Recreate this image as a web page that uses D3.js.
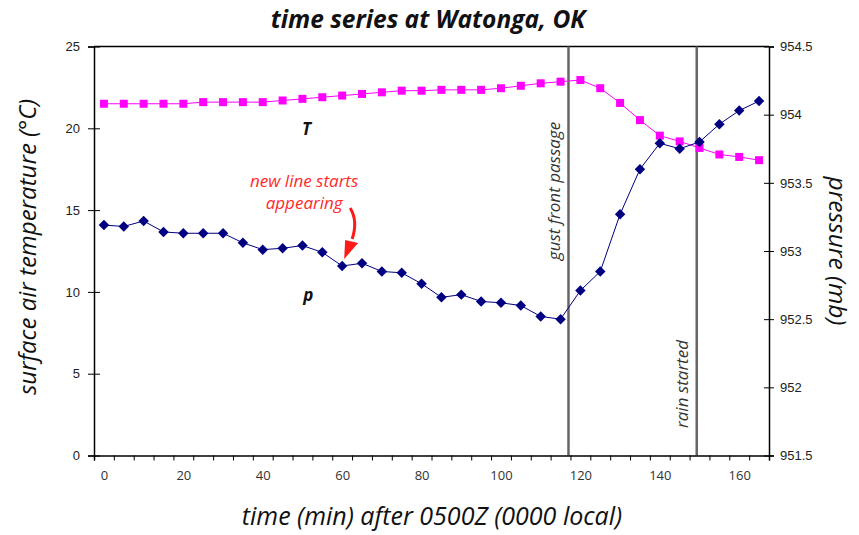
<!doctype html>
<html>
<head>
<meta charset="UTF-8" />
<script src="https://d3js.org/d3.v7.min.js"></script>
<style>
  body { margin: 0; background: #fff; }
  svg { display: block; }
  .num { font-family: "Liberation Sans", Arial, sans-serif; font-size: 13px; fill: #222; }
  .xlab { font-family: "Open Sans", "Noto Sans", sans-serif; font-size: 13px; fill: #333; }
  .ttl { font-family: "Open Sans", "Noto Sans", sans-serif; font-style: italic; fill: #111; }
</style>
</head>
<body>
<svg id="chart" width="859" height="535"></svg>
<script>
(function(){
  "use strict";

  // minutes after 0500Z
  const times = [0, 5, 10, 15, 20, 25, 30, 35, 40, 45, 50, 55, 60, 65, 70, 75, 80,
                 85, 90, 95, 100, 105, 110, 115, 120, 125, 130, 135, 140, 145, 150, 155, 160, 165];
  // surface air temperature (C)
  const temps = [21.5, 21.5, 21.5, 21.5, 21.5, 21.6, 21.6, 21.6, 21.6, 21.7, 21.8, 21.9, 22.0, 22.1, 22.2, 22.3, 22.3,
                 22.35, 22.35, 22.35, 22.45, 22.6, 22.75, 22.85, 22.95, 22.45, 21.55, 20.5, 19.55, 19.2, 18.8, 18.4, 18.25, 18.05];
  // pressure (mb)
  const press = [953.19, 953.18, 953.22, 953.14, 953.13, 953.13, 953.13, 953.06, 953.01, 953.02, 953.04, 952.99, 952.89,
                 952.91, 952.85, 952.84, 952.76, 952.66, 952.68, 952.63, 952.62, 952.60, 952.52, 952.50, 952.71, 952.85,
                 953.27, 953.60, 953.79, 953.75, 953.80, 953.93, 954.03, 954.10];

  const tempTicks = [0, 5, 10, 15, 20, 25];
  const pressTicks = [951.5, 952, 952.5, 953, 953.5, 954, 954.5];
  const timeLabels = [0, 20, 40, 60, 80, 100, 120, 140, 160];
  const catEdges = [-2.5, 2.5, 7.5, 12.5, 17.5, 22.5, 27.5, 32.5, 37.5, 42.5, 47.5, 52.5, 57.5, 62.5, 67.5, 72.5, 77.5,
                    82.5, 87.5, 92.5, 97.5, 102.5, 107.5, 112.5, 117.5, 122.5, 127.5, 132.5, 137.5, 142.5, 147.5,
                    152.5, 157.5, 162.5, 167.5];
  const events = [{t: 117, label: "gust front passage"}, {t: 149.3, label: "rain started"}];

  const svg = d3.select("#chart");

  const x = d3.scaleLinear().domain([-2.5, 167.5]).range([94, 769]);
  const yL = d3.scaleLinear().domain([0, 25]).range([455.5, 46.5]);
  const yR = d3.scaleLinear().domain([951.5, 954.5]).range([455.5, 46.5]);

  // top frame line
  svg.append("line")
     .attr("x1", x.range()[0]).attr("x2", x.range()[1])
     .attr("y1", yL(25)).attr("y2", yL(25))
     .attr("stroke", "#000").attr("stroke-width", 1.5);

  // event lines
  svg.selectAll(".evt").data(events).enter().append("line")
     .attr("class", "evt")
     .attr("x1", d => x(d.t)).attr("x2", d => x(d.t))
     .attr("y1", yL(25)).attr("y2", yL(0))
     .attr("stroke", "#666").attr("stroke-width", 2.5);

  svg.append("text").attr("class", "ttl")
     .attr("transform", "translate(" + (x(events[0].t) - 14) + "," + 191 + ") rotate(-90)")
     .attr("text-anchor", "middle").attr("dy", "0.35em")
     .style("font-size", "17px").style("fill", "#333")
     .text(events[0].label);
  svg.append("text").attr("class", "ttl")
     .attr("transform", "translate(" + (x(events[1].t) - 15) + "," + 384 + ") rotate(-90)")
     .attr("text-anchor", "middle").attr("dy", "0.35em")
     .style("font-size", "17px").style("fill", "#333")
     .text(events[1].label);

  // left axis
  const gL = svg.append("g").attr("transform", "translate(" + x.range()[0] + ",0)")
     .call(d3.axisLeft(yL).tickValues(tempTicks).tickSize(6).tickPadding(8));
  gL.select(".domain").attr("stroke-width", 1.5);
  gL.selectAll(".tick line").attr("x1", 6);
  gL.selectAll(".tick text").attr("class", "num").attr("fill", null);

  // right axis
  const gR = svg.append("g").attr("transform", "translate(" + x.range()[1] + ",0)")
     .call(d3.axisRight(yR).tickValues(pressTicks).tickSize(5).tickFormat(d3.format("")).tickPadding(6));
  gR.select(".domain").attr("stroke-width", 1.5);
  gR.selectAll(".tick line").attr("x1", -5);
  gR.selectAll(".tick text").attr("class", "num").attr("fill", null);

  // bottom axis: category ticks + labels
  const gB = svg.append("g").attr("transform", "translate(0," + yL(0) + ")")
     .call(d3.axisBottom(x).tickValues(catEdges).tickSize(5).tickFormat(""));
  gB.select(".domain").attr("stroke-width", 1.5);
  const gB2 = svg.append("g").attr("transform", "translate(0," + yL(0) + ")")
     .call(d3.axisBottom(x).tickValues(timeLabels).tickSize(0).tickPadding(15));
  gB2.select(".domain").remove();
  gB2.selectAll(".tick text").attr("class", "xlab").attr("fill", null);

  // series
  const lineT = d3.line().x((d, i) => x(times[i])).y(d => yL(d));
  const lineP = d3.line().x((d, i) => x(times[i])).y(d => yR(d));

  svg.append("path").datum(temps).attr("d", lineT)
     .attr("fill", "none").attr("stroke", "#ff00ff").attr("stroke-width", 1);
  svg.selectAll(".sq").data(temps).enter().append("rect")
     .attr("class", "sq")
     .attr("x", (d, i) => x(times[i]) - 4).attr("y", d => yL(d) - 4)
     .attr("width", 8).attr("height", 8)
     .attr("fill", "#ff00ff");

  svg.append("path").datum(press).attr("d", lineP)
     .attr("fill", "none").attr("stroke", "#000080").attr("stroke-width", 1);
  svg.selectAll(".dm").data(press).enter().append("path")
     .attr("class", "dm")
     .attr("d", d3.symbol(d3.symbolDiamond2, 70))
     .attr("transform", (d, i) => "translate(" + x(times[i]) + "," + yR(d) + ")")
     .attr("fill", "#000080");

  // series labels
  svg.append("text").attr("class", "ttl")
     .attr("x", x(51)).attr("y", yL(20) + 7).attr("text-anchor", "middle")
     .style("font-size", "17px").style("font-weight", "bold").text("T");
  svg.append("text").attr("class", "ttl")
     .attr("x", x(51.5)).attr("y", yR(952.5) - 18).attr("text-anchor", "middle")
     .style("font-size", "17px").style("font-weight", "bold").text("p");

  // red note with arrow pointing at 60 min pressure point
  const tipX = x(60) + 2, tipY = yR(press[12]) - 7;
  const note = svg.append("text").attr("class", "ttl")
     .attr("text-anchor", "middle").style("font-size", "17px").style("fill", "#ff2a2a");
  note.append("tspan").attr("x", tipX - 40).attr("y", tipY - 72).text("new line starts");
  note.append("tspan").attr("x", tipX - 40).attr("y", tipY - 50).text("appearing");
  svg.append("path")
     .attr("d", "M" + (tipX + 6) + "," + (tipY - 51) + " Q" + (tipX + 14) + "," + (tipY - 38) + " " + (tipX + 8) + "," + (tipY - 20))
     .attr("fill", "none").attr("stroke", "#ff1a1a").attr("stroke-width", 3);
  svg.append("path")
     .attr("d", "M" + tipX + "," + tipY + " L" + (tipX + 1) + "," + (tipY - 19) + " L" + (tipX + 14) + "," + (tipY - 16) + " Z")
     .attr("fill", "#ff1a1a");

  // titles
  svg.append("text").attr("class", "ttl")
     .attr("x", 428).attr("y", 28).attr("text-anchor", "middle")
     .style("font-size", "24.5px").style("font-weight", "bold")
     .text("time series at Watonga, OK");
  svg.append("text").attr("class", "ttl")
     .attr("transform", "translate(28," + 247 + ") rotate(-90)")
     .attr("text-anchor", "middle").attr("dy", "0.35em")
     .style("font-size", "24px")
     .text("surface air temperature (\u00B0C)");
  svg.append("text").attr("class", "ttl")
     .attr("transform", "translate(838," + 251 + ") rotate(90)")
     .attr("text-anchor", "middle").attr("dy", "0.35em")
     .style("font-size", "24.5px")
     .text("pressure (mb)");
  svg.append("text").attr("class", "ttl")
     .attr("x", 432).attr("y", 525).attr("text-anchor", "middle")
     .style("font-size", "25px")
     .text("time (min) after 0500Z (0000 local)");
})();
</script>
</body>
</html>
